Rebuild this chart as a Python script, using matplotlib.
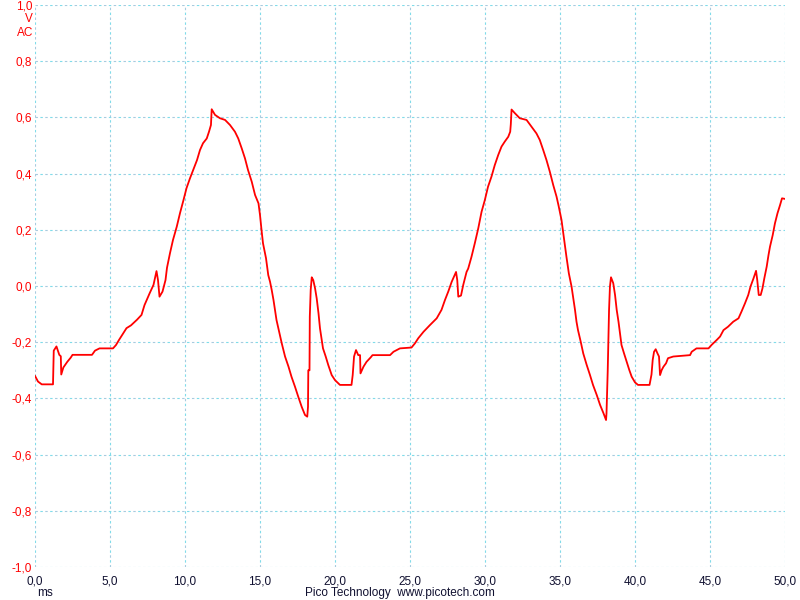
import matplotlib
matplotlib.use('Agg')
import matplotlib.pyplot as plt
import numpy as np

# Trace values (time in ms, voltage in V)
t_ms = [0.0, 0.2, 0.45, 0.8, 1.2, 1.25, 1.43, 1.62, 1.72, 1.75, 1.89, 2.15, 2.38, 2.5,
        3.8, 4.0, 4.3, 5.2, 5.4, 5.6, 6.1, 6.4, 6.8, 7.1, 7.3, 7.65, 7.9, 8.1, 8.2,
        8.3, 8.5, 8.7, 8.8, 9.0, 9.2, 9.45, 9.67, 9.9, 10.1, 10.33, 10.55, 10.8, 11.0,
        11.2, 11.45, 11.6, 11.73, 11.78, 12.0, 12.33, 12.67, 13.0, 13.33, 13.55, 13.78,
        14.0, 14.2, 14.45, 14.67, 14.9, 15.0, 15.1, 15.2, 15.4, 15.55, 15.67, 15.78,
        15.9, 16.0, 16.1, 16.3, 16.45, 16.67, 16.9, 17.1, 17.33, 17.55, 17.78, 18.0,
        18.15, 18.2, 18.22, 18.3, 18.32, 18.38, 18.45, 18.55, 18.67, 18.78, 18.9, 19.0,
        19.1, 19.2, 19.38, 19.55, 19.78, 20.0, 20.33, 21.1, 21.18, 21.27, 21.4, 21.55,
        21.67, 21.7, 21.9, 22.1, 22.38, 22.5, 23.67, 23.9, 24.33, 25.1, 25.33, 25.55,
        25.9, 26.33, 26.78, 27.1, 27.33, 27.55, 27.78, 28.07, 28.15, 28.22, 28.4, 28.55,
        28.77, 28.88, 29.1, 29.32, 29.55, 29.77, 29.99, 30.2, 30.43, 30.65, 30.88, 31.1,
        31.32, 31.55, 31.68, 31.72, 31.77, 31.99, 32.32, 32.77, 33.1, 33.43, 33.65,
        33.88, 34.1, 34.32, 34.55, 34.77, 34.92, 35.1, 35.28, 35.43, 35.59, 35.77, 35.9,
        36.0, 36.1, 36.2, 36.38, 36.55, 36.78, 37.0, 37.2, 37.45, 37.67, 37.9, 38.07,
        38.1, 38.18, 38.27, 38.33, 38.4, 38.55, 38.67, 38.78, 38.9, 39.0, 39.1, 39.27,
        39.45, 39.62, 39.78, 40.0, 40.2, 40.97, 41.1, 41.18, 41.27, 41.38, 41.5, 41.6,
        41.67, 41.78, 41.9, 42.07, 42.2, 42.55, 43.67, 43.78, 44.1, 44.9, 45.1, 45.45,
        45.67, 45.9, 46.2, 46.55, 46.9, 47.1, 47.33, 47.55, 47.7, 47.9, 48.07, 48.15,
        48.25, 48.38, 48.5, 48.62, 48.78, 48.9, 49.0, 49.18, 49.33, 49.5, 49.67, 49.8,
        50.0]
volts = [-0.32, -0.34, -0.35, -0.35, -0.35, -0.23, -0.215, -0.245, -0.25, -0.315, -0.29,
         -0.27, -0.255, -0.245, -0.245, -0.23, -0.222, -0.222, -0.21, -0.192, -0.15,
         -0.14, -0.12, -0.103, -0.068, -0.025, 0.004, 0.053, 0.021, -0.038, -0.02, 0.021,
         0.065, 0.117, 0.164, 0.211, 0.26, 0.306, 0.348, 0.383, 0.413, 0.448, 0.484,
         0.508, 0.525, 0.549, 0.573, 0.629, 0.609, 0.597, 0.591, 0.573, 0.549, 0.525,
         0.49, 0.454, 0.413, 0.371, 0.324, 0.294, 0.253, 0.2, 0.152, 0.099, 0.039, 0.015,
         -0.014, -0.05, -0.085, -0.121, -0.168, -0.204, -0.251, -0.287, -0.323, -0.358,
         -0.394, -0.43, -0.459, -0.465, -0.43, -0.3, -0.3, -0.109, -0.014, 0.031, 0.021,
         -0.008, -0.044, -0.097, -0.151, -0.186, -0.222, -0.251, -0.281, -0.317, -0.335,
         -0.352, -0.352, -0.317, -0.251, -0.228, -0.246, -0.246, -0.311, -0.287, -0.27,
         -0.254, -0.246, -0.246, -0.234, -0.222, -0.219, -0.204, -0.186, -0.163, -0.139,
         -0.115, -0.085, -0.05, -0.02, 0.015, 0.05, 0.021, -0.038, -0.034, 0.004, 0.05,
         0.062, 0.104, 0.152, 0.205, 0.264, 0.306, 0.353, 0.389, 0.43, 0.466, 0.496,
         0.514, 0.531, 0.549, 0.575, 0.628, 0.615, 0.597, 0.591, 0.567, 0.543, 0.52,
         0.484, 0.448, 0.407, 0.359, 0.318, 0.282, 0.235, 0.164, 0.104, 0.045, -0.002,
         -0.05, -0.085, -0.127, -0.157, -0.198, -0.24, -0.281, -0.317, -0.352, -0.388,
         -0.423, -0.453, -0.477, -0.453, -0.305, -0.085, -0.002, 0.031, 0.01, -0.032,
         -0.085, -0.127, -0.168, -0.21, -0.24, -0.27, -0.299, -0.323, -0.343, -0.352,
         -0.352, -0.315, -0.263, -0.234, -0.225, -0.24, -0.251, -0.317, -0.299, -0.287,
         -0.275, -0.257, -0.251, -0.246, -0.234, -0.222, -0.222, -0.21, -0.192, -0.18,
         -0.157, -0.145, -0.127, -0.115, -0.091, -0.062, -0.032, -0.002, 0.027, 0.054,
         0.021, -0.032, -0.032, -0.008, 0.027, 0.069, 0.11, 0.14, 0.181, 0.223, 0.259,
         0.288, 0.312, 0.31]

x_ticks = [0, 5, 10, 15, 20, 25, 30, 35, 40, 45, 50]
y_ticks = [-1.0, -0.8, -0.6, -0.4, -0.2, 0.0, 0.2, 0.4, 0.6, 0.8, 1.0]

plt.rcParams['font.family'] = ['Liberation Sans', 'DejaVu Sans']

fig = plt.figure(figsize=(8, 6), dpi=100)
ax = fig.add_axes([35/800, 1 - 567/600, 750/800, 562/600])
ax.set_xlim(0, 50)
ax.set_ylim(-1.0, 1.0)

# Two-tone dashed grid, like the scope software draws it
for xv in x_ticks:
    ax.axvline(xv, color='#a8cade', lw=0.8, linestyle=(0, (2.2, 6.6)), zorder=1)
    ax.axvline(xv, color='#7fdcea', lw=0.8, linestyle=(4.4, (2.2, 6.6)), zorder=1)
for yv in y_ticks:
    ax.axhline(yv, color='#a8cade', lw=0.8, linestyle=(0, (2.2, 6.6)), zorder=1)
    ax.axhline(yv, color='#7fdcea', lw=0.8, linestyle=(4.4, (2.2, 6.6)), zorder=1)

ax.plot(t_ms, volts, color='#ff0000', lw=1.3, zorder=3)

for s in ax.spines.values():
    s.set_visible(False)
ax.set_xticks(x_ticks)
ax.set_yticks(y_ticks)
ax.set_xticklabels([f'{v:.1f}'.replace('.', ',') for v in x_ticks], color='#101030', fontsize=8.5)
ax.set_yticklabels([f'{v:.1f}'.replace('.', ',') for v in y_ticks], color='#ff0000', fontsize=8.5)
ax.tick_params(axis='both', length=0)
ax.tick_params(axis='x', pad=6)
ax.tick_params(axis='y', pad=2)

# Units and footer
fig.text(33/800, 1 - 19/600, 'V', color='#ff0000', fontsize=8.5, ha='right', va='center')
fig.text(33/800, 1 - 33/600, 'AC', color='#ff0000', fontsize=8.5, ha='right', va='center')
fig.text(37/800, 1 - 593/600, 'ms', color='#101030', fontsize=8.5, ha='left', va='center')
fig.text(400/800, 1 - 593/600, 'Pico Technology  www.picotech.com', color='#101030',
         fontsize=8.5, ha='center', va='center')

plt.savefig('out.png', dpi=100)
